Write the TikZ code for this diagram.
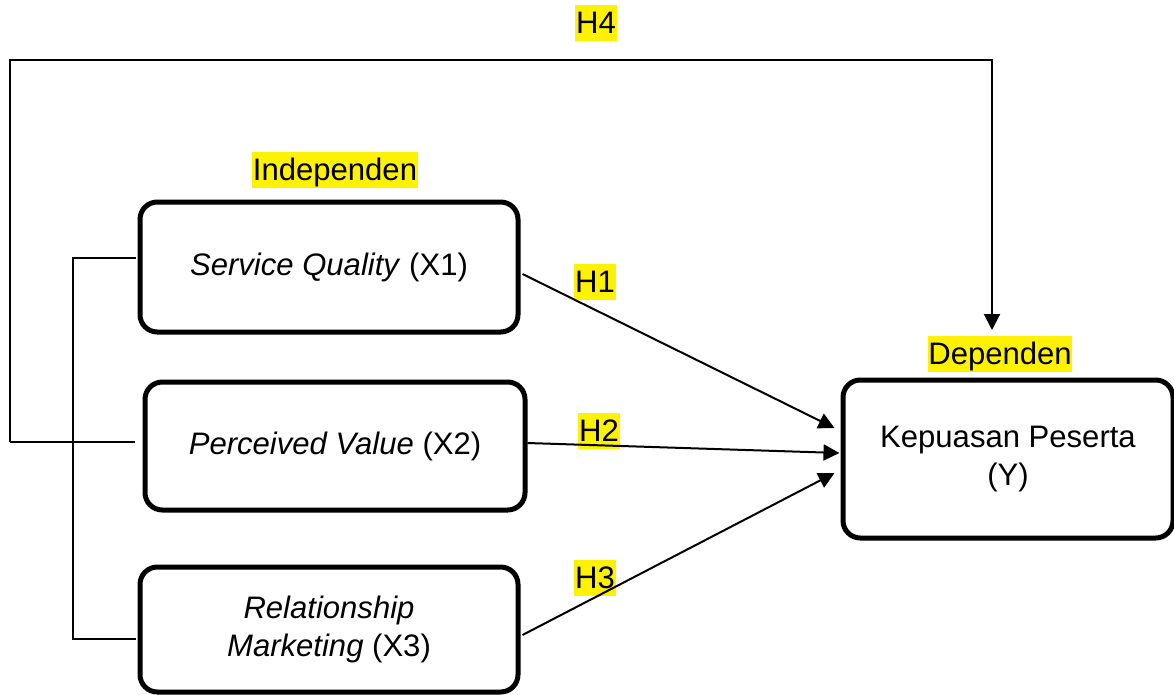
\documentclass[tikz,border=0pt]{standalone}
\usepackage{fontspec}
\setmainfont{Liberation Sans}
\usetikzlibrary{arrows.meta}
\begin{document}
\begin{tikzpicture}[x=0.75pt,y=-0.75pt,
  box/.style={draw, line width=3.75pt, rounded corners=13pt, align=center, inner sep=0pt},
  lbl/.style={fill=yellow, inner xsep=0.5pt, inner ysep=0pt, text height=21.4pt, text depth=5.4pt},
  conn/.style={line width=1.5pt},
  arr/.style={conn, -{Triangle[length=12pt,width=12pt]}},
  font=\fontsize{23.3}{29}\selectfont]
\useasboundingbox (0,0) rectangle (1174,694);

% boxes
\node[box, minimum width=283.5pt, minimum height=97.5pt] (x1) at (329,267) {\textit{Service Quality} (X1)};
\node[box, minimum width=285pt, minimum height=96pt] (x2) at (335,446) {\textit{Perceived Value} (X2)};
\node[box, minimum width=283.5pt, minimum height=93.75pt] (x3) at (329,629.5) {\textit{Relationship}\\\textit{Marketing} (X3)};
\node[box, minimum width=247.5pt, minimum height=118.5pt] (y) at (1008,459) {Kepuasan Peserta\\(Y)};

% labels
\node[lbl] (lind) at (335,170) {Independen};
\node[lbl] (ldep) at (1000,354) {Dependen};
\node[lbl] (lh4) at (596,23) {H4};
\node[lbl] (lh1) at (595,282) {H1};
\node[lbl] (lh2) at (599,431) {H2};
\node[lbl] (lh3) at (595,578) {H3};

% helper coordinates
\coordinate (b1) at (73,258);
\coordinate (b3) at (73,639);
\coordinate (h4s) at (10,442);
\coordinate (h4c) at (992,60);
\coordinate (h4e) at (992,330);

% bracket
\draw[conn] ([shift={(-2,-9)}]x1.west) -- (b1) -- (b3) -- ([shift={(-2,9.5)}]x3.west);
\draw[conn] ([shift={(-8,-4)}]x2.west) -- (h4s);

% H4
\draw[arr] (h4s) |- (h4c) -- (h4e);

% H1-H3
\draw[arr] ([shift={(2,7)}]x1.east) -- ([shift={(-6,-31)}]y.west);
\draw[arr] ([shift={(0,-3)}]x2.east) -- ([shift={(-1,-6)}]y.west);
\draw[arr] ([shift={(2,5.5)}]x3.east) -- ([shift={(-6,14)}]y.west);
\end{tikzpicture}
\end{document}
